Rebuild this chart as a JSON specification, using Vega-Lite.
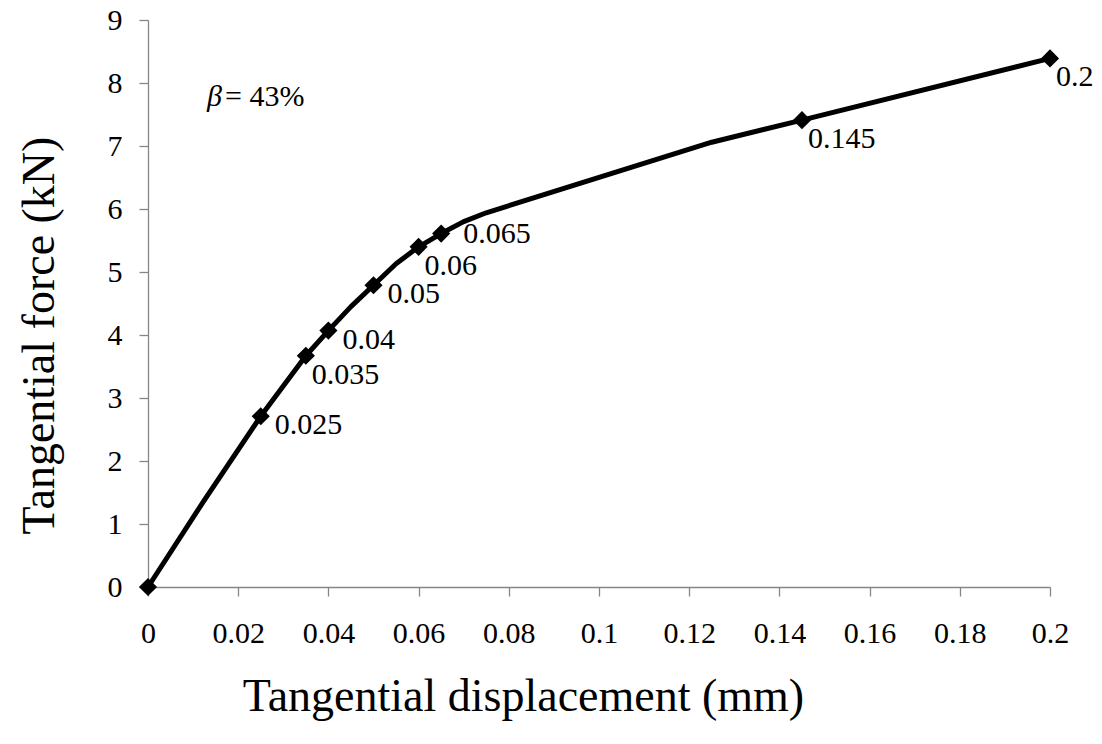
{
  "$schema": "https://vega.github.io/schema/vega-lite/v6.json",
  "autosize": "none",
  "width": 902,
  "height": 567,
  "padding": {"left": 148, "top": 20, "right": 52, "bottom": 157},
  "background": "white",
  "config": {
    "view": {"stroke": null},
    "font": "serif",
    "axis": {
      "labelFont": "Liberation Serif",
      "titleFont": "Liberation Serif",
      "labelFontSize": 30,
      "titleFontSize": 46,
      "titleFontWeight": "normal",
      "labelColor": "black",
      "titleColor": "black",
      "domainColor": "#868686",
      "tickColor": "#868686",
      "domainWidth": 1.3,
      "tickWidth": 1.3,
      "tickSize": 9,
      "labelFlush": false,
      "grid": false
    }
  },
  "datasets": {
    "curve": [
      {"x": 0, "y": 0, "marked": true, "label": ""},
      {"x": 0.0125, "y": 1.38, "marked": false, "label": ""},
      {"x": 0.025, "y": 2.71, "marked": true, "label": "0.025"},
      {"x": 0.035, "y": 3.67, "marked": true, "label": "0.035"},
      {"x": 0.04, "y": 4.07, "marked": true, "label": "0.04"},
      {"x": 0.045, "y": 4.45, "marked": false, "label": ""},
      {"x": 0.05, "y": 4.79, "marked": true, "label": "0.05"},
      {"x": 0.055, "y": 5.13, "marked": false, "label": ""},
      {"x": 0.06, "y": 5.4, "marked": true, "label": "0.06"},
      {"x": 0.065, "y": 5.61, "marked": true, "label": "0.065"},
      {"x": 0.07, "y": 5.8, "marked": false, "label": ""},
      {"x": 0.075, "y": 5.94, "marked": false, "label": ""},
      {"x": 0.125, "y": 7.06, "marked": false, "label": ""},
      {"x": 0.145, "y": 7.41, "marked": true, "label": "0.145"},
      {"x": 0.2, "y": 8.39, "marked": true, "label": "0.2"}
    ],
    "note": [
      {"x": 0.0131, "y": 7.77, "beta": "β", "rest": "= 43%"}
    ]
  },
  "layer": [
    {
      "data": {"name": "curve"},
      "mark": {"type": "line", "color": "black", "strokeWidth": 5, "interpolate": "linear", "strokeJoin": "round"},
      "encoding": {
        "x": {
          "field": "x", "type": "quantitative",
          "scale": {"domain": [0, 0.2], "nice": false, "zero": false},
          "axis": {
            "values": [0, 0.02, 0.04, 0.06, 0.08, 0.1, 0.12, 0.14, 0.16, 0.18, 0.2],
            "format": ".2~f",
            "labelPadding": 22,
            "title": "Tangential displacement (mm)",
            "titleX": 375,
            "titleY": 123,
            "titleAlign": "center",
            "titleBaseline": "alphabetic"
          }
        },
        "y": {
          "field": "y", "type": "quantitative",
          "scale": {"domain": [0, 9], "nice": false},
          "axis": {
            "values": [0, 1, 2, 3, 4, 5, 6, 7, 8, 9],
            "format": "d",
            "labelPadding": 17,
            "title": "Tangential force (kN)",
            "titleX": -95,
            "titleY": 315,
            "titleAngle": -90,
            "titleAlign": "center",
            "titleBaseline": "alphabetic"
          }
        }
      }
    },
    {
      "data": {"name": "curve"},
      "transform": [{"filter": "datum.marked"}],
      "mark": {"type": "point", "shape": "diamond", "filled": true, "color": "black", "size": 330, "opacity": 1},
      "encoding": {
        "x": {"field": "x", "type": "quantitative"},
        "y": {"field": "y", "type": "quantitative"}
      }
    },
    {
      "data": {"name": "curve"},
      "transform": [{"filter": "indexof(['0.035','0.06','0.145','0.2'], datum.label) >= 0"}],
      "mark": {"type": "text", "align": "left", "baseline": "middle", "dx": 6, "dy": 19, "fontSize": 30, "font": "Liberation Serif", "color": "black"},
      "encoding": {
        "x": {"field": "x", "type": "quantitative"},
        "y": {"field": "y", "type": "quantitative"},
        "text": {"field": "label"}
      }
    },
    {
      "data": {"name": "curve"},
      "transform": [{"filter": "indexof(['0.025','0.04','0.05'], datum.label) >= 0"}],
      "mark": {"type": "text", "align": "left", "baseline": "middle", "dx": 14, "dy": 9, "fontSize": 30, "font": "Liberation Serif", "color": "black"},
      "encoding": {
        "x": {"field": "x", "type": "quantitative"},
        "y": {"field": "y", "type": "quantitative"},
        "text": {"field": "label"}
      }
    },
    {
      "data": {"name": "curve"},
      "transform": [{"filter": "datum.label == '0.065'"}],
      "mark": {"type": "text", "align": "left", "baseline": "middle", "dx": 22, "dy": 0, "fontSize": 30, "font": "Liberation Serif", "color": "black"},
      "encoding": {
        "x": {"field": "x", "type": "quantitative"},
        "y": {"field": "y", "type": "quantitative"},
        "text": {"field": "label"}
      }
    },
    {
      "data": {"name": "note"},
      "mark": {"type": "text", "align": "left", "baseline": "middle", "fontSize": 30, "fontStyle": "italic", "font": "Liberation Serif", "color": "black"},
      "encoding": {
        "x": {"field": "x", "type": "quantitative"},
        "y": {"field": "y", "type": "quantitative"},
        "text": {"field": "beta"}
      }
    },
    {
      "data": {"name": "note"},
      "mark": {"type": "text", "align": "left", "baseline": "middle", "dx": 18, "fontSize": 30, "font": "Liberation Serif", "color": "black"},
      "encoding": {
        "x": {"field": "x", "type": "quantitative"},
        "y": {"field": "y", "type": "quantitative"},
        "text": {"field": "rest"}
      }
    }
  ]
}
